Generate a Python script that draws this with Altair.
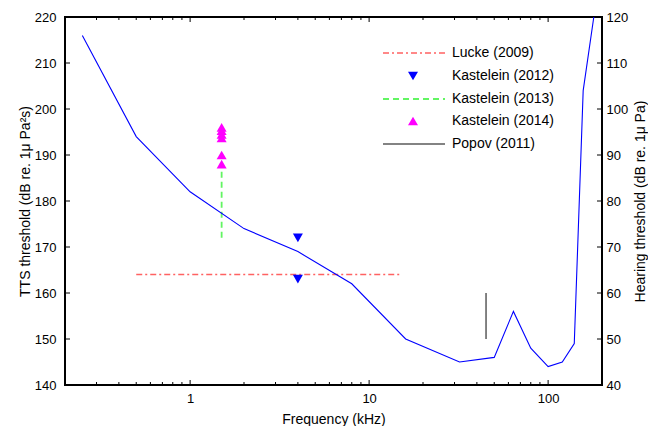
import altair as alt
import pandas as pd

# ---------------- data ----------------
# Audiogram (hearing threshold, right axis)
aud_freq = [0.25, 0.5, 1, 2, 4, 8, 16, 32, 50, 64, 80, 100, 120, 140, 157, 180]
aud_level = [116, 94, 82, 74, 69, 62, 50, 45, 46, 56, 48, 44, 45, 49, 104, 120]

# TTS thresholds (left axis)
lucke_freq = [0.5, 15]
lucke_level = [164, 164]

k2012_freq = [4, 4]
k2012_level = [172, 163]

k2013_freq = [1.5, 1.5]
k2013_level = [172, 188]

k2014_freq = [1.5, 1.5, 1.5, 1.5, 1.5, 1.5]
k2014_level = [196, 195.3, 194.5, 193.7, 190, 188]

popov_freq = [45, 45]
popov_level = [150, 160]

series_labels = ["Lucke (2009)", "Kastelein (2012)", "Kastelein (2013)",
                 "Kastelein (2014)", "Popov (2011)"]

x_major = [1, 10, 100]
x_minor = [0.2, 0.3, 0.4, 0.5, 0.6, 0.7, 0.8, 0.9,
           2, 3, 4, 5, 6, 7, 8, 9,
           20, 30, 40, 50, 60, 70, 80, 90, 200]
y_left_ticks = [140, 150, 160, 170, 180, 190, 200, 210, 220]
y_right_ticks = [40, 50, 60, 70, 80, 90, 100, 110, 120]

# ---------------- styling ----------------
FONT = "Liberation Sans"
RED = "#ff6262"
BLUE = "#0000ff"
GREEN = "#62f562"
MAGENTA = "#ff00ff"
GREY = "#5a5a5a"

W, H = 537, 368
MAJ, MIN = 5, 3

xs = alt.Scale(type="log", domain=[0.2, 200], nice=False)
yl = alt.Scale(domain=[140, 220], nice=False, zero=False)
yr = alt.Scale(domain=[40, 120], nice=False, zero=False)


def df(f, v):
    return pd.DataFrame({"f": f, "v": v})


ax_common = dict(domain=False, grid=False, ticks=False)

x_axis = alt.Axis(orient="bottom", values=x_major, format="d",
                  title="Frequency (kHz)", labelPadding=7, titlePadding=7,
                  **ax_common)
y_left_axis = alt.Axis(orient="left", values=y_left_ticks, format="d",
                       title="TTS threshold (dB re. 1μ Pa²s)",
                       labelPadding=9, titlePadding=2, **ax_common)
y_right_axis = alt.Axis(orient="right", values=y_right_ticks, format="d",
                        title="Hearing threshold (dB re. 1μ Pa)",
                        labelPadding=4, titlePadding=6,
                        titleAngle=270, titleBaseline="top", **ax_common)

lucke = alt.Chart(df(lucke_freq, lucke_level)).mark_line(
    color=RED, strokeWidth=1.5, strokeDash=[6, 3, 2, 3]
).encode(
    x=alt.X("f:Q", scale=xs, axis=x_axis),
    y=alt.Y("v:Q", scale=yl, axis=y_left_axis),
)

k2012 = alt.Chart(df(k2012_freq, k2012_level)).mark_point(
    shape="triangle-down", filled=True, size=100, color=BLUE, opacity=1
).encode(
    x=alt.X("f:Q", scale=xs, axis=None),
    y=alt.Y("v:Q", scale=yl, axis=None),
)

k2013 = alt.Chart(df(k2013_freq, k2013_level)).mark_line(
    color=GREEN, strokeWidth=1.8, strokeDash=[6, 4]
).encode(
    x=alt.X("f:Q", scale=xs, axis=None),
    y=alt.Y("v:Q", scale=yl, axis=None),
)

k2014 = alt.Chart(df(k2014_freq, k2014_level)).mark_point(
    shape="triangle-up", filled=True, size=100, color=MAGENTA, opacity=1
).encode(
    x=alt.X("f:Q", scale=xs, axis=None),
    y=alt.Y("v:Q", scale=yl, axis=None),
)

popov = alt.Chart(df(popov_freq, popov_level)).mark_line(
    color=GREY, strokeWidth=1.5
).encode(
    x=alt.X("f:Q", scale=xs, axis=None),
    y=alt.Y("v:Q", scale=yl, axis=None),
)

# ---- inward tick marks, positioned through the scales ----
xmaj_df = pd.DataFrame({"f": x_major})
xmin_df = pd.DataFrame({"f": x_minor})
ytk_df = pd.DataFrame({"v": y_left_ticks})


def xticks(d, y0, y1):
    return alt.Chart(d).mark_rule(color="black", strokeWidth=1).encode(
        x=alt.X("f:Q", scale=xs, axis=None),
        y=alt.value(y0), y2=alt.value(y1))


def yticks(x0, x1):
    return alt.Chart(ytk_df).mark_rule(color="black", strokeWidth=1).encode(
        y=alt.Y("v:Q", scale=yl, axis=None),
        x=alt.value(x0), x2=alt.value(x1))


tick_layers = [
    xticks(xmaj_df, H - MAJ, H), xticks(xmin_df, H - MIN, H),
    xticks(xmaj_df, 0, MAJ), xticks(xmin_df, 0, MIN),
    yticks(0, MAJ), yticks(W - MAJ, W),
]

tts = alt.layer(lucke, k2013, popov, k2014, k2012, *tick_layers).resolve_axis(
    x="independent", y="independent")

audiogram = alt.Chart(df(aud_freq, aud_level)).mark_line(
    color=BLUE, strokeWidth=1.1
).encode(
    x=alt.X("f:Q", scale=xs, axis=None),
    y=alt.Y("v:Q", scale=yr, axis=y_right_axis),
)

# ---------------- manual legend ----------------
LX1, LX2, LSYM, LTXT = 318, 380, 348, 387
LY = [36, 59, 82, 104, 127]


def ldf(i):
    return pd.DataFrame({"label": [series_labels[i]]})


legend_layers = []
legend_layers.append(alt.Chart(ldf(0)).mark_rule(
    color=RED, strokeWidth=1.5, strokeDash=[6, 3, 2, 3]).encode(
    x=alt.value(LX1), x2=alt.value(LX2), y=alt.value(LY[0])))
legend_layers.append(alt.Chart(ldf(1)).mark_point(
    shape="triangle-down", filled=True, size=100, color=BLUE, opacity=1).encode(
    x=alt.value(LSYM), y=alt.value(LY[1])))
legend_layers.append(alt.Chart(ldf(2)).mark_rule(
    color=GREEN, strokeWidth=1.8, strokeDash=[6, 4]).encode(
    x=alt.value(LX1), x2=alt.value(LX2), y=alt.value(LY[2])))
legend_layers.append(alt.Chart(ldf(3)).mark_point(
    shape="triangle-up", filled=True, size=100, color=MAGENTA, opacity=1).encode(
    x=alt.value(LSYM), y=alt.value(LY[3])))
legend_layers.append(alt.Chart(ldf(4)).mark_rule(
    color=GREY, strokeWidth=1.5).encode(
    x=alt.value(LX1), x2=alt.value(LX2), y=alt.value(LY[4])))
for i in range(5):
    legend_layers.append(alt.Chart(ldf(i)).mark_text(
        align="left", baseline="middle", fontSize=14, font=FONT,
        color="black").encode(
        text="label:N", x=alt.value(LTXT), y=alt.value(LY[i])))

chart = alt.layer(tts, audiogram, *legend_layers).resolve_scale(
    y="independent"
).resolve_axis(
    x="independent", y="independent"
).properties(
    width=W, height=H,
    padding={"left": 10, "top": 3, "right": 0, "bottom": 0},
    background="white",
).configure_view(
    stroke="black", strokeWidth=2
).configure_axis(
    labelFont=FONT, titleFont=FONT, labelFontSize=13, titleFontSize=14,
    labelColor="black", titleColor="black", titleFontWeight="normal",
)

chart.save("out.html", embed_options={"renderer": "svg", "actions": False})
